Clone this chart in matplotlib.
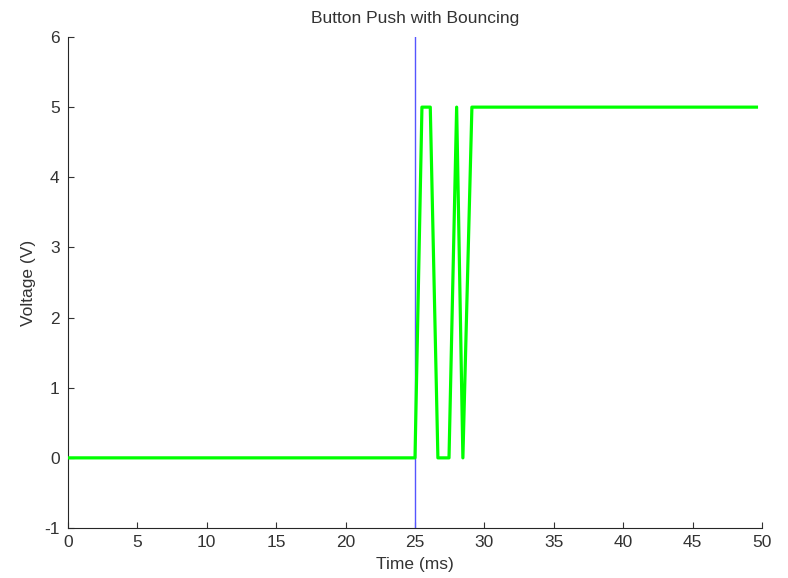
import matplotlib
matplotlib.use("Agg")
import matplotlib.pyplot as plt

# Data
time_ms = [0, 25.0, 25.5, 26.1, 26.65, 27.45, 28.0, 28.45, 29.1, 49.6]
voltage = [0, 0, 5, 5, 0, 0, 5, 0, 5, 5]
push_time = 25
x_ticks = [0, 5, 10, 15, 20, 25, 30, 35, 40, 45, 50]
y_ticks = [-1, 0, 1, 2, 3, 4, 5, 6]

plt.rcParams['font.family'] = ['Liberation Sans', 'DejaVu Sans']
plt.rcParams['axes.unicode_minus'] = False

fig = plt.figure(figsize=(7.88, 5.78), dpi=100)
ax = fig.add_axes([0.0863, 0.0865, 0.967 - 0.0863, 0.936 - 0.0865])

ax.plot([push_time, push_time], [-1, 6], color='#5555ff', lw=1.0, zorder=2)
ax.plot(time_ms, voltage, color='#00ff00', lw=2.3, zorder=3)

ax.set_xlim(0, 50)
ax.set_ylim(-1, 6)
ax.set_xticks(x_ticks)
ax.set_yticks(y_ticks)
ax.spines['top'].set_visible(False)
ax.spines['right'].set_visible(False)
for s in ['left', 'bottom']:
    ax.spines[s].set_color('#262626')
    ax.spines[s].set_linewidth(0.8)
ax.tick_params(direction='in', length=4, labelsize=12.5, colors='#333333')
ax.tick_params(axis='x', pad=5)
ax.tick_params(axis='y', pad=6)
ax.set_title('Button Push with Bouncing', fontsize=12.5, color='#333333', pad=10)
ax.set_xlabel('Time (ms)', fontsize=12.5, color='#333333', labelpad=5)
ax.set_ylabel('Voltage (V)', fontsize=12.5, color='#333333', labelpad=6)

fig.savefig('out.png', dpi=100)
